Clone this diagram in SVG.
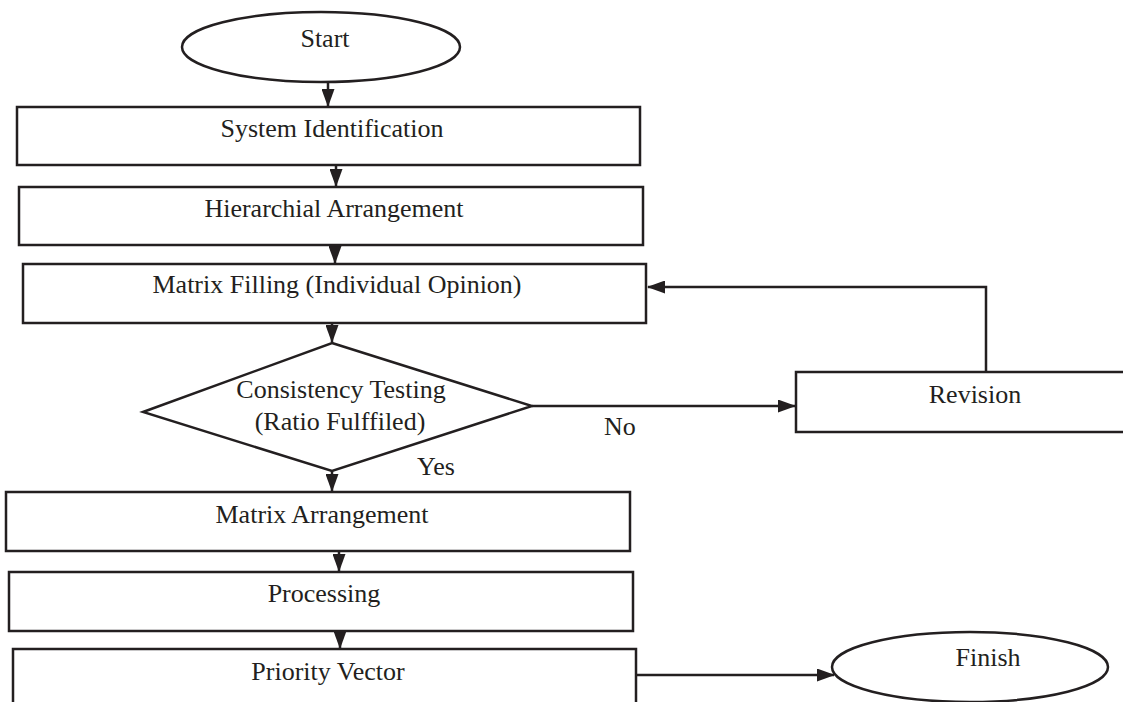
<svg xmlns="http://www.w3.org/2000/svg" width="1123" height="702" viewBox="0 0 1123 702">
<style>
.s{fill:#fff;stroke:#231f20;stroke-width:2.5}
.c{fill:none;stroke:#231f20;stroke-width:2.5}
text{font-family:"Liberation Serif","Times New Roman",serif;font-size:26px;fill:#231f20}
.m{text-anchor:middle}
</style>
<defs>
<marker id="ah" markerUnits="userSpaceOnUse" markerWidth="18" markerHeight="13" refX="17" refY="6.5" orient="auto">
<path d="M0,0 L18,6.5 L0,13 z" fill="#231f20"/>
</marker>
</defs>
<rect width="1123" height="702" fill="#fff"/>
<g id="connectors">
<line class="c" x1="328" y1="82" x2="328" y2="106" marker-end="url(#ah)"/>
<line class="c" x1="336" y1="165" x2="336" y2="186" marker-end="url(#ah)"/>
<line class="c" x1="335" y1="245" x2="335" y2="263" marker-end="url(#ah)"/>
<line class="c" x1="332" y1="323" x2="332" y2="342" marker-end="url(#ah)"/>
<line class="c" x1="332" y1="471" x2="332" y2="491" marker-end="url(#ah)"/>
<line class="c" x1="339" y1="551" x2="339" y2="571" marker-end="url(#ah)"/>
<line class="c" x1="340" y1="631" x2="340" y2="648" marker-end="url(#ah)"/>
<line class="c" x1="532" y1="406" x2="795" y2="406" marker-end="url(#ah)"/>
<path class="c" d="M986,372 V287 H648" marker-end="url(#ah)"/>
<line class="c" x1="636" y1="675" x2="834" y2="675" marker-end="url(#ah)"/>
</g>
<g id="start"><ellipse class="s" cx="321" cy="47" rx="139" ry="35"/><text class="m" x="325" y="47">Start</text></g>
<g id="system-identification"><rect class="s" x="17" y="107" width="623" height="58"/><text class="m" x="332" y="137">System Identification</text></g>
<g id="hierarchial-arrangement"><rect class="s" x="19" y="187" width="624" height="58"/><text class="m" x="334" y="217">Hierarchial Arrangement</text></g>
<g id="matrix-filling"><rect class="s" x="23" y="264" width="623" height="59"/><text class="m" x="337" y="293">Matrix Filling (Individual Opinion)</text></g>
<g id="consistency-testing"><polygon class="s" points="332,343 532,406 332,471 143,412"/><text class="m" x="341" y="398">Consistency Testing</text><text class="m" x="340" y="430">(Ratio Fulffiled)</text></g>
<g id="revision"><rect class="s" x="796" y="372" width="340" height="60"/><text class="m" x="975" y="403">Revision</text></g>
<g id="labels"><text x="604" y="435">No</text><text x="417" y="475">Yes</text></g>
<g id="matrix-arrangement"><rect class="s" x="6" y="492" width="624" height="59"/><text class="m" x="322" y="523">Matrix Arrangement</text></g>
<g id="processing"><rect class="s" x="9" y="572" width="624" height="59"/><text class="m" x="324" y="602">Processing</text></g>
<g id="priority-vector"><rect class="s" x="13" y="649" width="623" height="70"/><text class="m" x="328" y="680">Priority Vector</text></g>
<g id="finish"><ellipse class="s" cx="970" cy="667" rx="138" ry="35"/><text class="m" x="988" y="666">Finish</text></g>
</svg>
